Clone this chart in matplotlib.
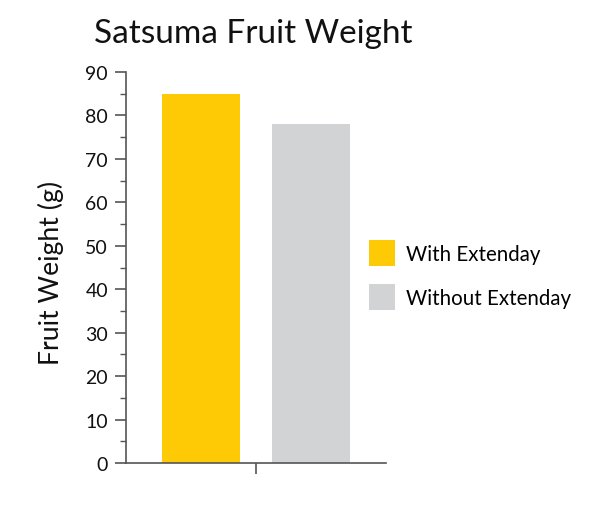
import matplotlib.pyplot as plt
import numpy as np
from matplotlib.ticker import MultipleLocator

# Daten
series = ['With Extenday', 'Without Extenday']
weights = [85, 78]
colors = ['#FECA05', '#D1D3D4']

plt.rcParams['font.family'] = ['Lato', 'DejaVu Sans']

fig = plt.figure(figsize=(6.14, 5.06), dpi=100)
ax = fig.add_axes([0.2052, 0.083, 0.4235, 0.7727])

offsets = [-0.21, 0.21]
for name, w, c, off in zip(series, weights, colors, offsets):
    ax.bar(off, w, width=0.30, color=c, label=name)

ax.set_xlim(-0.5, 0.5)
ax.set_ylim(0, 90)
ax.set_xticks([0])
ax.set_xticklabels([''])
ax.yaxis.set_major_locator(MultipleLocator(10))
ax.yaxis.set_minor_locator(MultipleLocator(5))

for s in ['top', 'right']:
    ax.spines[s].set_visible(False)
for s in ['left', 'bottom']:
    ax.spines[s].set_color('#555555')
    ax.spines[s].set_linewidth(1.2)

ax.tick_params(axis='y', which='major', length=8, width=1.2, color='#555555',
               labelsize=14, pad=5, labelcolor='#111111')
ax.tick_params(axis='y', which='minor', length=4, width=1.0, color='#555555')
ax.tick_params(axis='x', length=8, width=1.2, color='#555555')

fig.text(0.083, 0.4615, 'Fruit Weight (g)', rotation=90, ha='center', va='center',
         fontsize=19.2, color='#111111')
fig.text(0.412, 0.933, 'Satsuma Fruit Weight', ha='center', va='center',
         fontsize=24, color='#111111')

leg = ax.legend(loc='center left', bbox_to_anchor=(0.904, 0.481), frameon=False,
                fontsize=14.8, handlelength=1.25, handleheight=1.52,
                handletextpad=0.55, labelspacing=0.9, borderaxespad=0)

fig.savefig('out.png', dpi=100)
